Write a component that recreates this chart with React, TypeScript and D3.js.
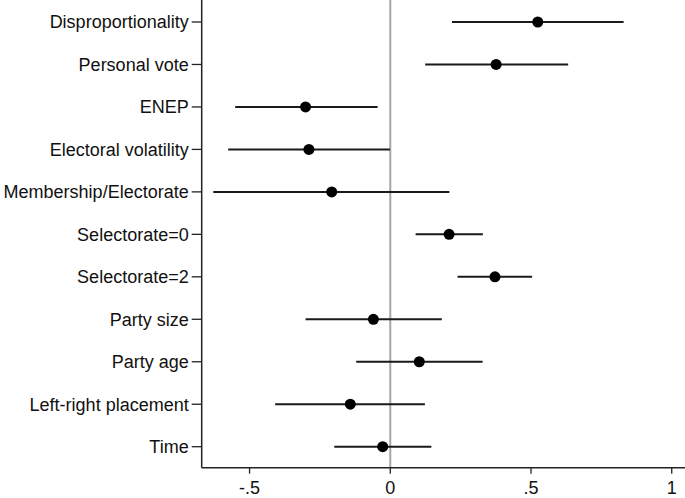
import React from "react";
import * as d3 from "d3";

const categories = [
  "Disproportionality",
  "Personal vote",
  "ENEP",
  "Electoral volatility",
  "Membership/Electorate",
  "Selectorate=0",
  "Selectorate=2",
  "Party size",
  "Party age",
  "Left-right placement",
  "Time",
];
const estimates = [0.524, 0.376, -0.301, -0.289, -0.208, 0.209, 0.372, -0.06, 0.103, -0.142, -0.027];
const lower = [0.219, 0.124, -0.551, -0.576, -0.629, 0.09, 0.239, -0.301, -0.121, -0.409, -0.199];
const upper = [0.829, 0.632, -0.045, -0.001, 0.21, 0.329, 0.504, 0.183, 0.328, 0.123, 0.146];
const xTicks = [-0.5, 0, 0.5, 1];
const xTickLabels = ["-.5", "0", ".5", "1"];

const W = 685;
const H = 498;
const left = 201.7;
const right = 683;
const bottom = 467.7;
const font = "'Liberation Sans', Arial, sans-serif";

export default function App() {
  const x = d3.scaleLinear().domain([-0.67, 1.04]).range([left, right]);
  const y = d3.scalePoint<string>().domain(categories).range([22, 446.7]);

  return (
    <svg
      width={W}
      height={H}
      style={{ position: "absolute", left: 0, top: 0, background: "#fff" }}
      fontFamily={font}
    >
      <rect width={W} height={H} fill="#fff" />
      {/* zero reference line */}
      <line x1={x(0)} x2={x(0)} y1={0} y2={bottom} stroke="#a6a6a6" strokeWidth={2} />
      {/* CIs and points */}
      {categories.map((c, i) => (
        <g key={c}>
          <line
            x1={x(lower[i])}
            x2={x(upper[i])}
            y1={y(c)}
            y2={y(c)}
            stroke="#1a1a1a"
            strokeWidth={2}
          />
          <circle cx={x(estimates[i])} cy={y(c)} r={5.5} fill="#000" />
        </g>
      ))}
      {/* y axis */}
      <line x1={left} x2={left} y1={0} y2={bottom} stroke="#222" strokeWidth={1.5} />
      {categories.map((c) => (
        <g key={"t" + c}>
          <line x1={left - 10} x2={left} y1={y(c)} y2={y(c)} stroke="#222" strokeWidth={1.3} />
          <text
            x={left - 13}
            y={y(c)}
            dy="0.35em"
            textAnchor="end"
            fontSize={18}
            fill="#111"
          >
            {c}
          </text>
        </g>
      ))}
      {/* x axis */}
      <line x1={left} x2={right + 2} y1={bottom} y2={bottom} stroke="#222" strokeWidth={1.5} />
      {xTicks.map((t, i) => (
        <g key={"x" + t}>
          <line x1={x(t)} x2={x(t)} y1={bottom} y2={bottom + 6} stroke="#222" strokeWidth={1.3} />
          <text x={x(t)} y={493.5} textAnchor="middle" fontSize={18} fill="#111">
            {xTickLabels[i]}
          </text>
        </g>
      ))}
    </svg>
  );
}
